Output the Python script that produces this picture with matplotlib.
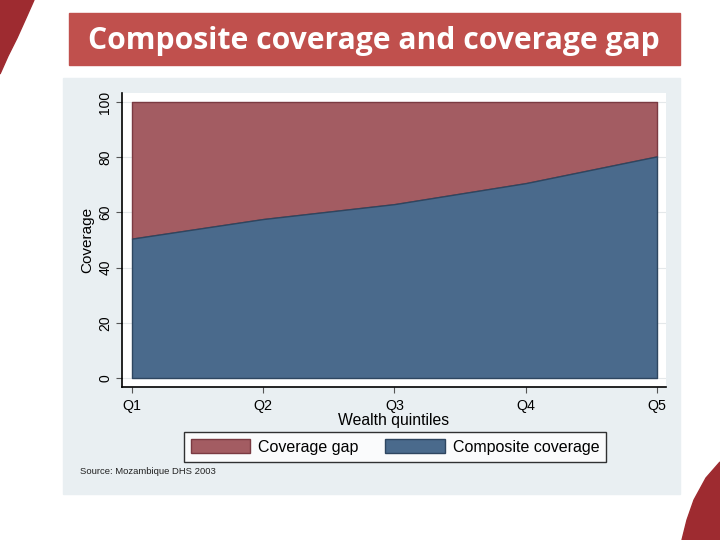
import matplotlib.pyplot as plt
from matplotlib.patches import Rectangle, Polygon
import numpy as np

quintiles = ['Q1', 'Q2', 'Q3', 'Q4', 'Q5']
composite = [50.5, 57.6, 63.0, 70.6, 80.3]
total = [100, 100, 100, 100, 100]
yticks = [0, 20, 40, 60, 80, 100]

gap_color = '#A35C62'
cov_color = '#4A6A8C'

plt.rcParams['font.family'] = ['Liberation Sans', 'DejaVu Sans']

fig = plt.figure(figsize=(7.2, 5.4), dpi=100)
W, H = 720, 540

def fx(px):
    return px / W

def fy(py):
    return 1 - py / H

# decorative corner shapes
tl = [(0, 0), (34, 0), (26, 18), (17, 38), (8, 56), (0, 74)]
fig.patches.append(Polygon([(fx(a), fy(b)) for a, b in tl], closed=True,
                           transform=fig.transFigure, color='#9E2B30', zorder=-2))
br = [(720, 462), (706, 478), (694, 500), (687, 520), (682, 540), (720, 540)]
fig.patches.append(Polygon([(fx(a), fy(b)) for a, b in br], closed=True,
                           transform=fig.transFigure, color='#9E2B30', zorder=-2))

# chart panel background
fig.patches.append(Rectangle((fx(63), fy(494)), fx(617), (494 - 78) / H,
                             transform=fig.transFigure, color='#E9EFF2', zorder=-2))

# title bar
fig.patches.append(Rectangle((fx(69), fy(65)), fx(611), 52 / H,
                             transform=fig.transFigure, color='#C0504D', zorder=-1))
fig.text(fx(374), fy(41), 'Composite coverage and coverage gap', color='white',
         fontsize=21.7, fontweight='bold', family='Open Sans',
         ha='center', va='center')

# plot area
ax = fig.add_axes([fx(122), fy(387), fx(666 - 122), (387 - 93) / H])
ax.set_zorder(2)
x = np.arange(len(quintiles))
ax.fill_between(x, composite, total, color=gap_color, edgecolor='#7A3A42',
                linewidth=1, label='Coverage gap', zorder=2)
ax.fill_between(x, 0, composite, color=cov_color, edgecolor='#2E4660',
                linewidth=1, label='Composite coverage', zorder=3)

ax.set_xlim(-10 / 131.3, 4 + 9 / 131.3)
ax.set_ylim(-9 / 2.76, 100 + 9 / 2.76)
ax.set_xticks(x)
ax.set_xticklabels(quintiles, fontsize=10.3)
ax.set_yticks(yticks)
ax.set_yticklabels([str(v) for v in yticks], fontsize=10, rotation=90, va='center')
ax.grid(axis='y', color='#E4E8EA', linewidth=0.8, zorder=1)
ax.set_axisbelow(True)
ax.tick_params(axis='both', direction='out', length=4, color='#555555', width=0.8)
ax.tick_params(axis='x', pad=4.5)
ax.tick_params(axis='y', pad=3)
for s in ['top', 'right']:
    ax.spines[s].set_visible(False)
for s in ['left', 'bottom']:
    ax.spines[s].set_linewidth(1.2)
ax.set_xlabel('Wealth quintiles', fontsize=11.3, labelpad=0)
ax.set_ylabel('Coverage', fontsize=11, labelpad=3)

leg = fig.legend(loc='center', bbox_to_anchor=(fx(395), fy(447)), ncol=2,
                 fontsize=11.5, frameon=True, fancybox=False, edgecolor='black',
                 handlelength=3.7, handleheight=1.0, columnspacing=1.7,
                 borderpad=0.45, handletextpad=0.5)
leg.get_frame().set_linewidth(1.0)

fig.text(fx(80), fy(472), 'Source: Mozambique DHS 2003', fontsize=6.8, va='center',
         color='#222222')

fig.savefig('out.png', dpi=100)
